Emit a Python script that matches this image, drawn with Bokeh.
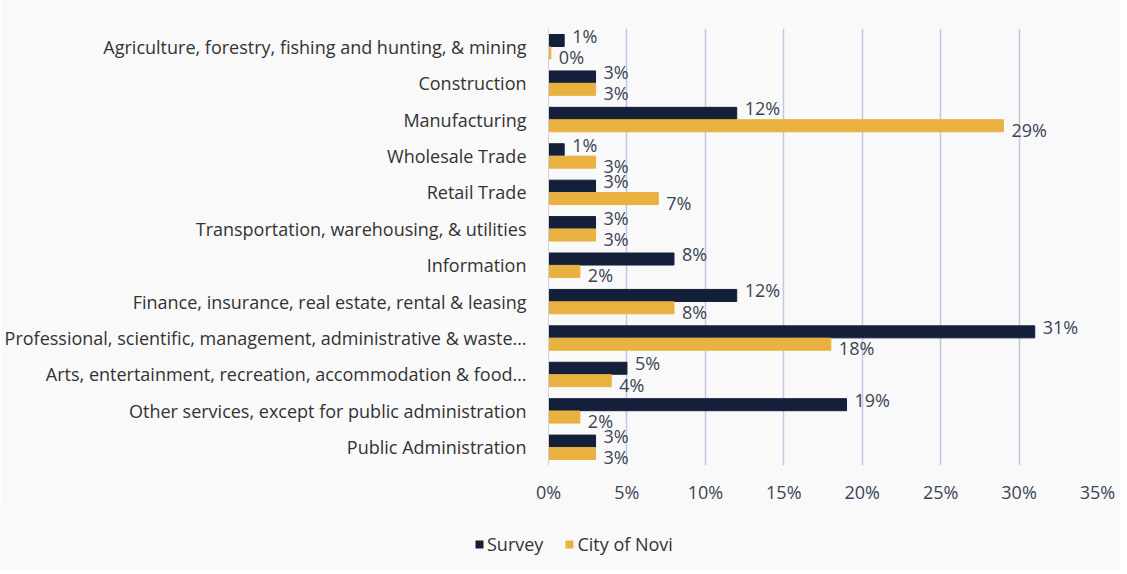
from bokeh.plotting import figure
from bokeh.models import FactorRange, FixedTicker, Legend, LegendItem, ColumnDataSource
from bokeh.layouts import column
from bokeh.transform import dodge
from bokeh.core.properties import value
from bokeh.embed import file_html
from bokeh.resources import INLINE

categories = [
    "Agriculture, forestry, fishing and hunting, & mining",
    "Construction",
    "Manufacturing",
    "Wholesale Trade",
    "Retail Trade",
    "Transportation, warehousing, & utilities",
    "Information",
    "Finance, insurance, real estate, rental & leasing",
    "Professional, scientific, management, administrative & waste\u2026",
    "Arts, entertainment, recreation, accommodation & food\u2026",
    "Other services, except for public administration",
    "Public Administration",
]
survey = [1, 3, 12, 1, 3, 3, 8, 12, 31, 5, 19, 3]
novi = [0.15, 3, 29, 3, 7, 3, 2, 8, 18, 4, 2, 3]
series_names = ["Survey", "City of Novi"]
tick_values = [0, 5, 10, 15, 20, 25, 30, 35]
tick_labels = ["0%", "5%", "10%", "15%", "20%", "25%", "30%", "35%"]

FONT = "Open Sans"
NAVY = "#14203a"
GOLD = "#e9b13f"
BG = "#f9f9f9"
TXT = "#333333"
W = 1120

src = ColumnDataSource(dict(
    cat=categories,
    survey=survey,
    novi=novi,
    survey_lbl=[f"{round(v)}%" for v in survey],
    novi_lbl=[f"{round(v)}%" for v in novi],
))

p = figure(
    width=W, height=506,
    y_range=FactorRange(factors=list(reversed(categories)), range_padding=0),
    x_range=(0, 35),
    output_backend="svg", toolbar_location=None,
    min_border_left=548, min_border_right=23,
    min_border_top=28, min_border_bottom=20,
)
p.frame_align = False
p.background_fill_color = BG
p.border_fill_color = BG
p.outline_line_color = None

p.hbar(y=dodge("cat", 0.17, range=p.y_range), right="survey", left=0, height=0.33,
       source=src, color=NAVY)
p.hbar(y=dodge("cat", -0.17, range=p.y_range), right="novi", left=0, height=0.33,
       source=src, color=GOLD)

p.text(x="survey", y=dodge("cat", 0.17, range=p.y_range), text="survey_lbl", source=src,
       x_offset=8, y_offset=-5, text_baseline="middle", text_align="left",
       text_font=value(FONT), text_font_size="18px", text_color="#3a4555")
p.text(x="novi", y=dodge("cat", -0.17, range=p.y_range), text="novi_lbl", source=src,
       x_offset=8, y_offset=4, text_baseline="middle", text_align="left",
       text_font=value(FONT), text_font_size="18px", text_color="#3a4555")

p.xaxis.ticker = FixedTicker(ticks=tick_values)
p.xaxis.major_label_overrides = {t: l for t, l in zip(tick_values, tick_labels)}
p.xaxis.axis_line_color = None
p.xaxis.major_tick_line_color = None
p.xaxis.minor_tick_line_color = None
p.xaxis.major_label_standoff = 8
p.xaxis.major_label_text_font = FONT
p.xaxis.major_label_text_font_size = "18px"
p.xaxis.major_label_text_color = "#3a4555"

p.yaxis.axis_line_color = "#cfd2dc"
p.yaxis.major_tick_line_color = None
p.yaxis.minor_tick_line_color = None
p.yaxis.major_label_standoff = 16
p.yaxis.major_label_text_font = FONT
p.yaxis.major_label_text_font_size = "18px"
p.yaxis.major_label_text_color = TXT

p.ygrid.grid_line_color = None
p.xgrid.grid_line_color = "#c5c6e2"
p.xgrid.grid_line_width = 1.5

# legend strip
lg = figure(width=W, height=64, output_backend="svg", toolbar_location=None,
            x_range=(0, 1), y_range=(0, 1),
            min_border_left=0, min_border_right=0, min_border_top=0, min_border_bottom=0)
lg.frame_align = False
lg.axis.visible = False
lg.grid.grid_line_color = None
lg.outline_line_color = None
lg.background_fill_color = BG
lg.border_fill_color = BG
e1 = lg.hbar(y=[0], left=[0], right=[0], height=0, fill_color=NAVY, line_alpha=0)
e2 = lg.hbar(y=[0], left=[0], right=[0], height=0, fill_color=GOLD, line_alpha=0)
legend = Legend(
    items=[LegendItem(label=series_names[0], renderers=[e1]),
           LegendItem(label=series_names[1], renderers=[e2])],
    orientation="horizontal", location=(474, 14),
    background_fill_alpha=0, border_line_color=None,
    glyph_width=10, glyph_height=10, label_standoff=3, spacing=21,
    label_text_font=FONT, label_text_font_size="18px", label_text_color=TXT,
    padding=0, margin=0,
)
lg.add_layout(legend, "center")

open("out.html", "w").write(file_html(column(p, lg, spacing=0), INLINE))
